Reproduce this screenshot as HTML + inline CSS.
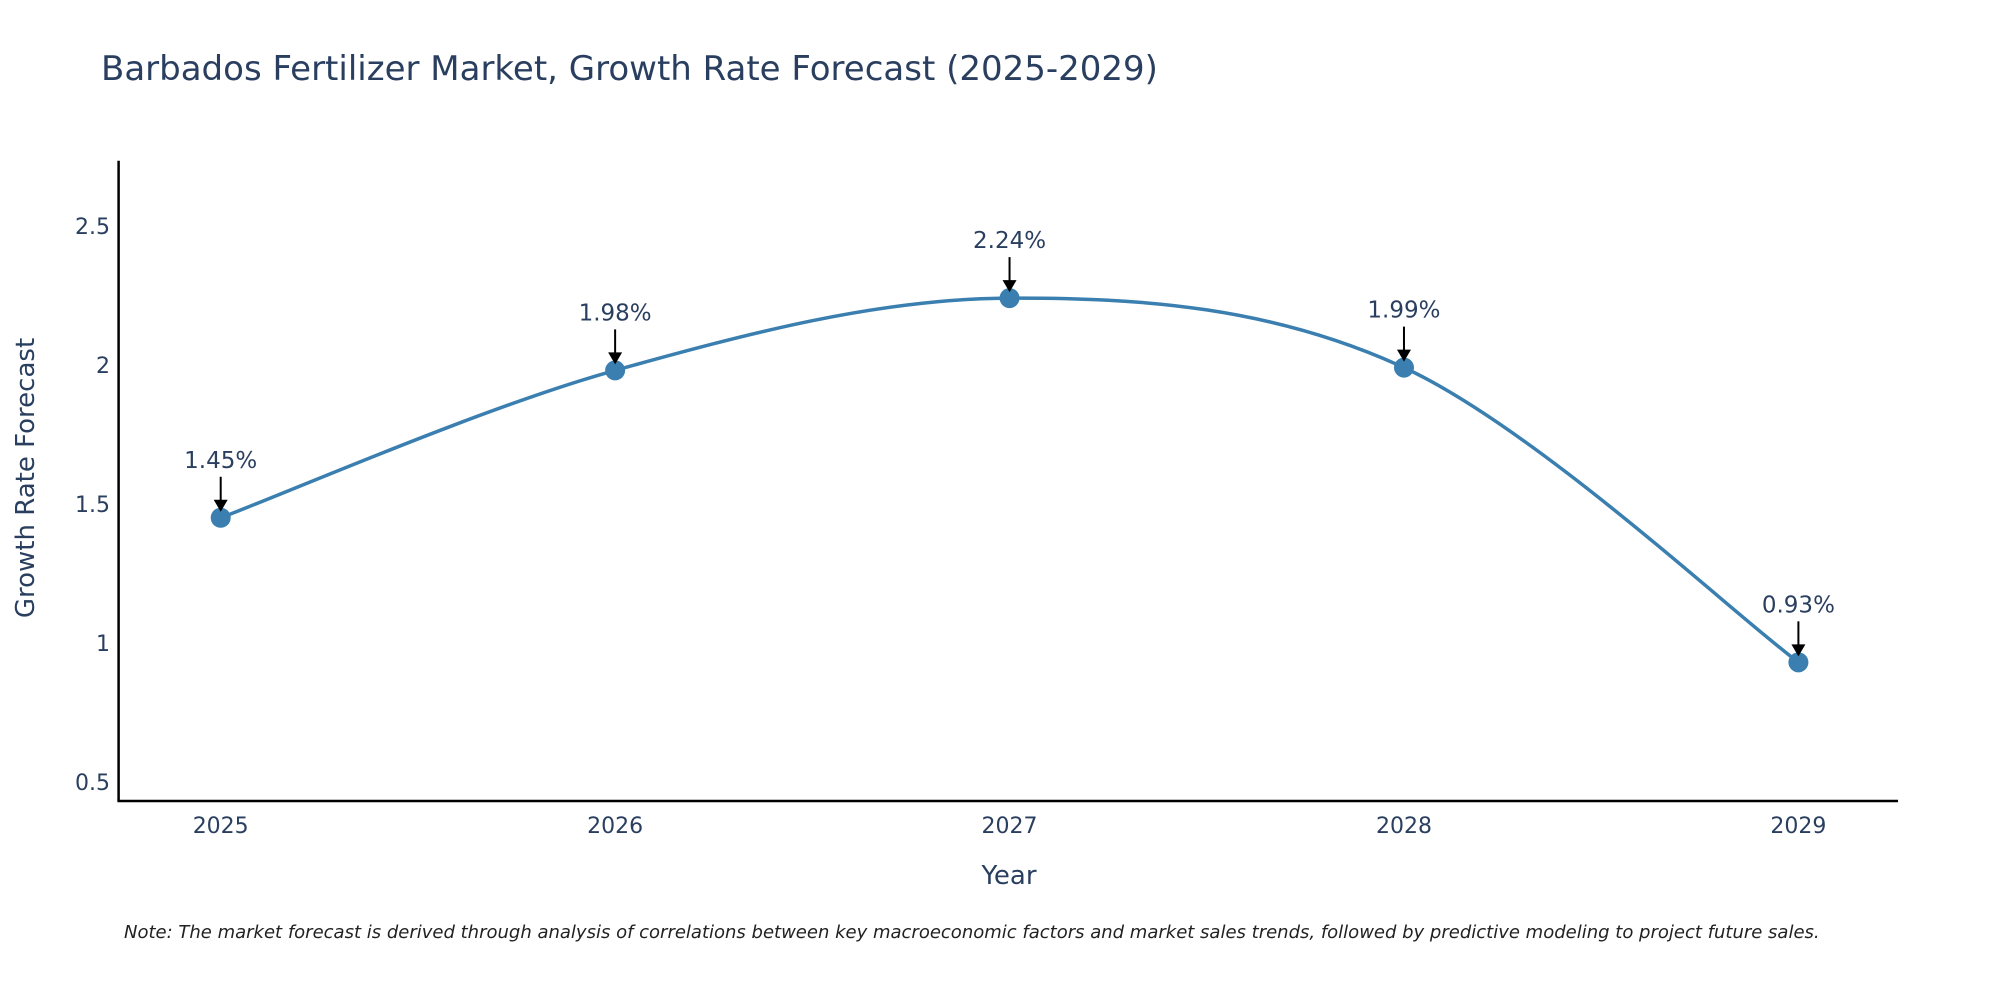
<!DOCTYPE html>
<html><head><meta charset="utf-8"><style>
html,body{margin:0;padding:0;background:#fff;}
svg{display:block;font-family:"DejaVu Sans","Liberation Sans",sans-serif;}
</style></head><body>
<svg id="chart" width="2000" height="1000" viewBox="0 0 2000 1000">
<text x="101" y="80" font-size="34" fill="#2a3f5f">Barbados Fertilizer Market, Growth Rate Forecast (2025-2029)</text>
<g id="axes"></g>
<g id="marks"></g>
<text x="1009" y="884" font-size="26" fill="#2a3f5f" text-anchor="middle">Year</text>
<text transform="translate(34,478) rotate(-90)" font-size="26" fill="#2a3f5f" text-anchor="middle">Growth Rate Forecast</text>
<text x="124" y="938" font-size="18" font-style="italic" fill="#222">Note: The market forecast is derived through analysis of correlations between key macroeconomic factors and market sales trends, followed by predictive modeling to project future sales.</text>
</svg>
<script>
const years = ["2025","2026","2027","2028","2029"];
const values = [1.45, 1.98, 2.24, 1.99, 0.93];
const labels = ["1.45%","1.98%","2.24%","1.99%","0.93%"];
const yTicks = [0.5, 1, 1.5, 2, 2.5];
const yTickLabels = ["0.5","1","1.5","2","2.5"];

const NS="http://www.w3.org/2000/svg";
const X0=220.7, X1=1798.4;
function xs(i){return X0+(X1-X0)*i/(years.length-1);}
function ys(v){return 781.9-(v-0.5)*(781.9-225.8)/2;}
function mk(tag,attrs,parent){const e=document.createElementNS(NS,tag);for(const k in attrs)e.setAttribute(k,attrs[k]);parent.appendChild(e);return e;}
const axes=document.getElementById('axes'), marks=document.getElementById('marks');
let a=mk('line',{x1:118.6,y1:160.7,x2:118.6,y2:801,stroke:'#000','stroke-width':2.5},axes);


a=mk('line',{x1:117.4,y1:801,x2:1898,y2:801,stroke:'#000','stroke-width':2.5},axes);


yTicks.forEach((v,i)=>{const t=mk('text',{x:110,y:ys(v)+8,'font-size':22,fill:'#2a3f5f','text-anchor':'end'},axes);t.textContent=yTickLabels[i];

});
years.forEach((y,i)=>{const t=mk('text',{x:xs(i),y:833,'font-size':22,fill:'#2a3f5f','text-anchor':'middle'},axes);t.textContent=y;

});
const P=values.map((v,i)=>[xs(i),ys(v)]);
let d=`M${P[0][0]},${P[0][1]}`;const s=1/6;
for(let i=0;i<P.length-1;i++){const p0=P[Math.max(0,i-1)],p1=P[i],p2=P[i+1],p3=P[Math.min(P.length-1,i+2)];
d+=` C${p1[0]+(p2[0]-p0[0])*s},${p1[1]+(p2[1]-p0[1])*s} ${p2[0]-(p3[0]-p1[0])*s},${p2[1]-(p3[1]-p1[1])*s} ${p2[0]},${p2[1]}`;}
const line=mk('path',{d:d,fill:'none',stroke:'#3a7fb0','stroke-width':3.5},marks);


P.forEach((p,i)=>{const c=mk('circle',{cx:p[0],cy:p[1],r:10,fill:'#3a7fb0'},marks);


const l=mk('line',{x1:p[0],y1:p[1]-41,x2:p[0],y2:p[1]-16,stroke:'#000','stroke-width':2},marks);


const h=mk('polygon',{points:`${p[0]-7},${p[1]-18} ${p[0]+7},${p[1]-18} ${p[0]},${p[1]-6}`,fill:'#000'},marks);


const t=mk('text',{x:p[0],y:p[1]-50,'font-size':23,fill:'#2a3f5f','text-anchor':'middle'},marks);t.textContent=labels[i];

});
</script>
</body></html>
